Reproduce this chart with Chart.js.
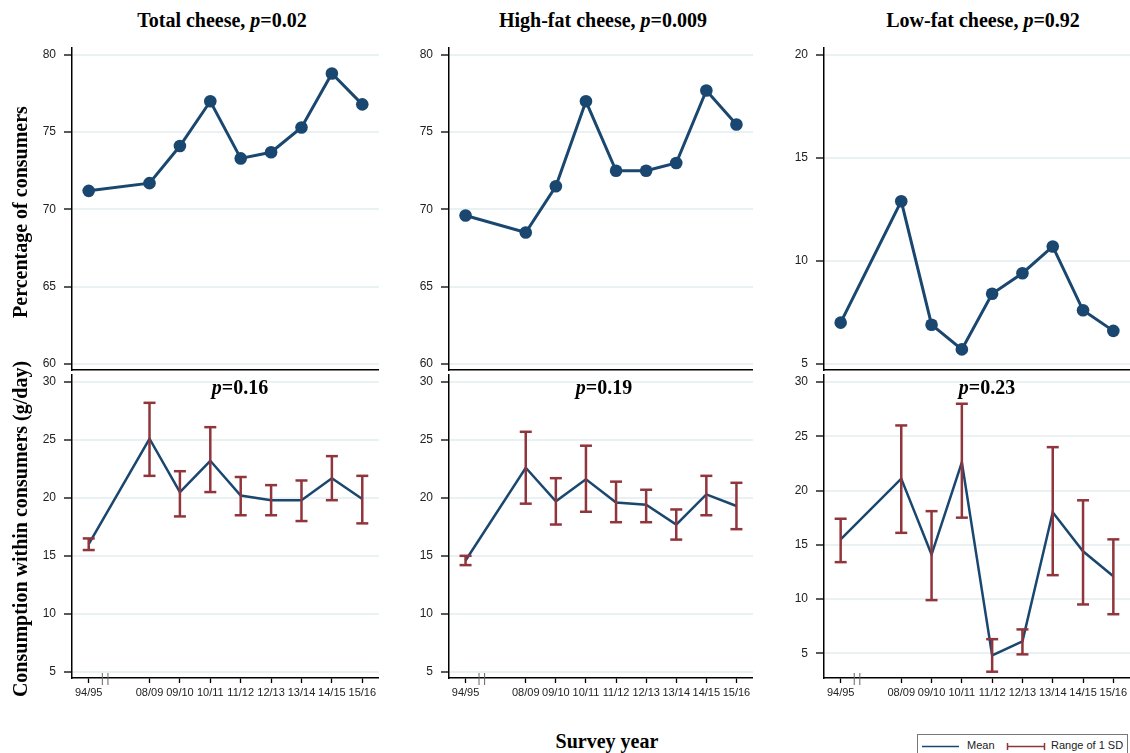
<!DOCTYPE html>
<html>
<head>
<meta charset="utf-8">
<script src="https://cdn.jsdelivr.net/npm/chart.js@4.4.0/dist/chart.umd.min.js"></script>
<style>
  body { margin: 0; width: 1130px; height: 753px; background: #fff; position: relative; overflow: hidden; }
  canvas { position: absolute; }
  .ttl { position: absolute; transform: translateX(-50%); font: bold 20px 'Liberation Serif', 'Times New Roman', serif; line-height: 20px; white-space: nowrap; color: #000; }
  .ytl { position: absolute; font: bold 20px 'Liberation Serif', 'Times New Roman', serif; line-height: 20px; white-space: nowrap; color: #000; transform: translate(-50%, -50%) rotate(-90deg); }
  .legend { position: absolute; left: 917px; top: 734px; width: 211px; height: 30px; border: 1px solid #777; box-sizing: border-box; font: 11px 'Liberation Sans', Arial, sans-serif; color: #222; }
  .legend span { position: absolute; top: 4px; }
</style>
</head>
<body>

<div class="ttl" style="left:222px;top:10px">Total cheese, <i>p</i>=0.02</div>
<div class="ttl" style="left:603px;top:10px">High-fat cheese, <i>p</i>=0.009</div>
<div class="ttl" style="left:983px;top:10px">Low-fat cheese, <i>p</i>=0.92</div>

<div class="ytl" style="left:20px;top:212px">Percentage of consumers</div>
<div class="ytl" style="left:20px;top:529px">Consumption within consumers (g/day)</div>
<div class="ttl" style="left:607px;top:731px">Survey year</div>

<div class="legend">
  <svg width="211" height="30" style="position:absolute;left:0;top:0">
    <line x1="4" y1="11.5" x2="41" y2="11.5" stroke="#1a476f" stroke-width="1.5"/>
    <line x1="89" y1="11.5" x2="127" y2="11.5" stroke="#90353b" stroke-width="1.5"/>
    <line x1="89.5" y1="8" x2="89.5" y2="15" stroke="#90353b" stroke-width="1.5"/>
    <line x1="126.5" y1="8" x2="126.5" y2="15" stroke="#90353b" stroke-width="1.5"/>
  </svg>
  <span style="left:49px">Mean</span>
  <span style="left:133px">Range of 1 SD</span>
</div>

<script>
const years = ['94/95', '08/09', '09/10', '10/11', '11/12', '12/13', '13/14', '14/15', '15/16'];
// 94/95 sits one slot further left so there is room for the axis break
const xPos = years.map((y, i) => i === 0 ? 0 : i + 1);

// top row: percentage of consumers
const pctTotal = [71.2, 71.7, 74.1, 77.0, 73.3, 73.7, 75.3, 78.8, 76.8];
const pctHigh  = [69.6, 68.5, 71.5, 77.0, 72.5, 72.5, 73.0, 77.7, 75.5];
const pctLow   = [7.0, 12.9, 6.9, 5.7, 8.4, 9.4, 10.7, 7.6, 6.6];

// bottom row: consumption within consumers (g/day), mean and range of 1 SD
const meanTotal = [16.0, 25.1, 20.5, 23.2, 20.2, 19.8, 19.8, 21.7, 19.9];
const sdLoTotal = [15.5, 21.9, 18.4, 20.5, 18.5, 18.5, 18.0, 19.8, 17.8];
const sdHiTotal = [16.5, 28.2, 22.3, 26.1, 21.8, 21.1, 21.5, 23.6, 21.9];

const meanHigh = [14.6, 22.6, 19.7, 21.6, 19.6, 19.4, 17.7, 20.3, 19.3];
const sdLoHigh = [14.2, 19.5, 17.7, 18.8, 17.9, 17.9, 16.4, 18.5, 17.3];
const sdHiHigh = [15.0, 25.7, 21.7, 24.5, 21.4, 20.7, 19.0, 21.9, 21.3];

const meanLow = [15.5, 21.1, 14.1, 22.6, 4.8, 6.1, 18.0, 14.4, 12.1];
const sdLoLow = [13.4, 16.1, 9.9, 17.5, 3.3, 4.9, 12.2, 9.5, 8.6];
const sdHiLow = [17.4, 26.0, 18.1, 28.0, 6.3, 7.2, 24.0, 19.1, 15.5];

const pctTicks = [60, 65, 70, 75, 80];
const lowPctTicks = [5, 10, 15, 20];
const gramTicks = [5, 10, 15, 20, 25, 30];
const pLabels = ['0.16', '0.19', '0.23'];

const NAVY = '#1a476f', MAROON = '#90353b', GRID = '#e9f1f3';
const tickFont = { family: "'Liberation Sans', Arial, sans-serif" };

// draws the little || break on the bottom x axis
const breakMarks = {
    id: 'breakMarks',
    afterDraw(chart) {
        const { ctx, chartArea, scales: { x } } = chart;
        const px = x.getPixelForValue(0.54);
        ctx.save();
        ctx.strokeStyle = '#666';
        ctx.lineWidth = 1;
        [-2.8, 2.8].forEach(d => {
            ctx.beginPath();
            ctx.moveTo(px + d, chartArea.bottom - 5);
            ctx.lineTo(px + d, chartArea.bottom + 7);
            ctx.stroke();
        });
        ctx.restore();
    }
};

function yAxis(min, max, ticks) {
    return {
        min, max,
        afterBuildTicks: s => { s.ticks = ticks.map(v => ({ value: v })); },
        afterFit: s => { s.width = 50; s.paddingTop = 0; s.paddingBottom = 0; },
        grid: { color: GRID, lineWidth: 2, drawTicks: true, tickLength: 8, tickColor: '#000', tickWidth: 1.3 },
        border: { display: true, color: '#000', width: 1.5 },
        ticks: { padding: 8, color: '#222', font: { ...tickFont, size: 12 } }
    };
}

function xAxis(showTicks) {
    return {
        type: 'linear', min: -0.55, max: 9.55,
        afterBuildTicks: s => { s.ticks = xPos.map(v => ({ value: v })); },
        afterFit: s => { s.height = showTicks ? 30 : 2; s.paddingLeft = 0; s.paddingRight = 0; },
        grid: { display: showTicks, drawOnChartArea: false, drawTicks: true, tickLength: 5, tickColor: '#000', tickWidth: 1.3 },
        border: { display: true, color: '#000', width: 1.5 },
        ticks: {
            display: showTicks, autoSkip: false, maxRotation: 0, padding: 3, color: '#222',
            font: { ...tickFont, size: 11 },
            callback: v => years[xPos.indexOf(v)]
        }
    };
}

function addCanvas(left, top, w, h) {
    const c = document.createElement('canvas');
    c.width = w; c.height = h;
    c.style.left = left + 'px';
    c.style.top = top + 'px';
    document.body.insertBefore(c, document.body.firstChild);
    return c;
}

const layout = { autoPadding: false, padding: { top: 10, left: 0, right: 0, bottom: 0 } };

function pctChart(left, right, values, ticks, min, max) {
    const cv = addCanvas(left - 50, 38, right - left + 50, 334);
    new Chart(cv, {
        type: 'line',
        data: {
            datasets: [{
                data: values.map((v, i) => ({ x: xPos[i], y: v })),
                borderColor: NAVY, borderWidth: 3,
                pointRadius: 6.3, pointBackgroundColor: NAVY, pointBorderWidth: 0
            }]
        },
        options: {
            responsive: false, animation: false, layout,
            plugins: { legend: { display: false }, tooltip: { enabled: false } },
            scales: { x: xAxis(false), y: yAxis(min, max, ticks) }
        }
    });
}

function gramChart(left, right, mean, lo, hi, min, max) {
    const cv = addCanvas(left - 50, 365, right - left + 50, 343);
    const bars = [];
    mean.forEach((m, i) => {
        bars.push({ x: xPos[i], y: lo[i] }, { x: xPos[i], y: hi[i] }, { x: xPos[i], y: null });
    });
    new Chart(cv, {
        type: 'line',
        data: {
            datasets: [{
                // range of 1 SD, caps drawn as 'line' point markers
                data: bars,
                borderColor: MAROON, borderWidth: 2.5, spanGaps: false,
                pointStyle: 'line', pointRadius: 6, pointBorderColor: MAROON, pointBorderWidth: 2.5
            }, {
                data: mean.map((v, i) => ({ x: xPos[i], y: v })),
                borderColor: NAVY, borderWidth: 2.5, pointRadius: 0
            }]
        },
        options: {
            responsive: false, animation: false, layout,
            plugins: { legend: { display: false }, tooltip: { enabled: false } },
            scales: { x: xAxis(true), y: yAxis(min, max, gramTicks) }
        },
        plugins: [breakMarks]
    });
}

pctChart(72, 379, pctTotal, pctTicks, 59.6, 80.45);
pctChart(449, 753, pctHigh, pctTicks, 59.6, 80.45);
pctChart(824, 1130, pctLow, lowPctTicks, 4.7, 20.34);

gramChart(72, 379, meanTotal, sdLoTotal, sdHiTotal, 4.46, 30.6);
gramChart(449, 753, meanHigh, sdLoHigh, sdHiHigh, 4.46, 30.6);
gramChart(824, 1130, meanLow, sdLoLow, sdHiLow, 2.72, 30.65);

// p-values for the bottom row
[240, 604, 987].forEach((cx, i) => {
    const d = document.createElement('div');
    d.className = 'ttl';
    d.style.left = cx + 'px';
    d.style.top = '377px';
    d.innerHTML = '<i>p</i>=' + pLabels[i];
    document.body.appendChild(d);
});
</script>
</body>
</html>
